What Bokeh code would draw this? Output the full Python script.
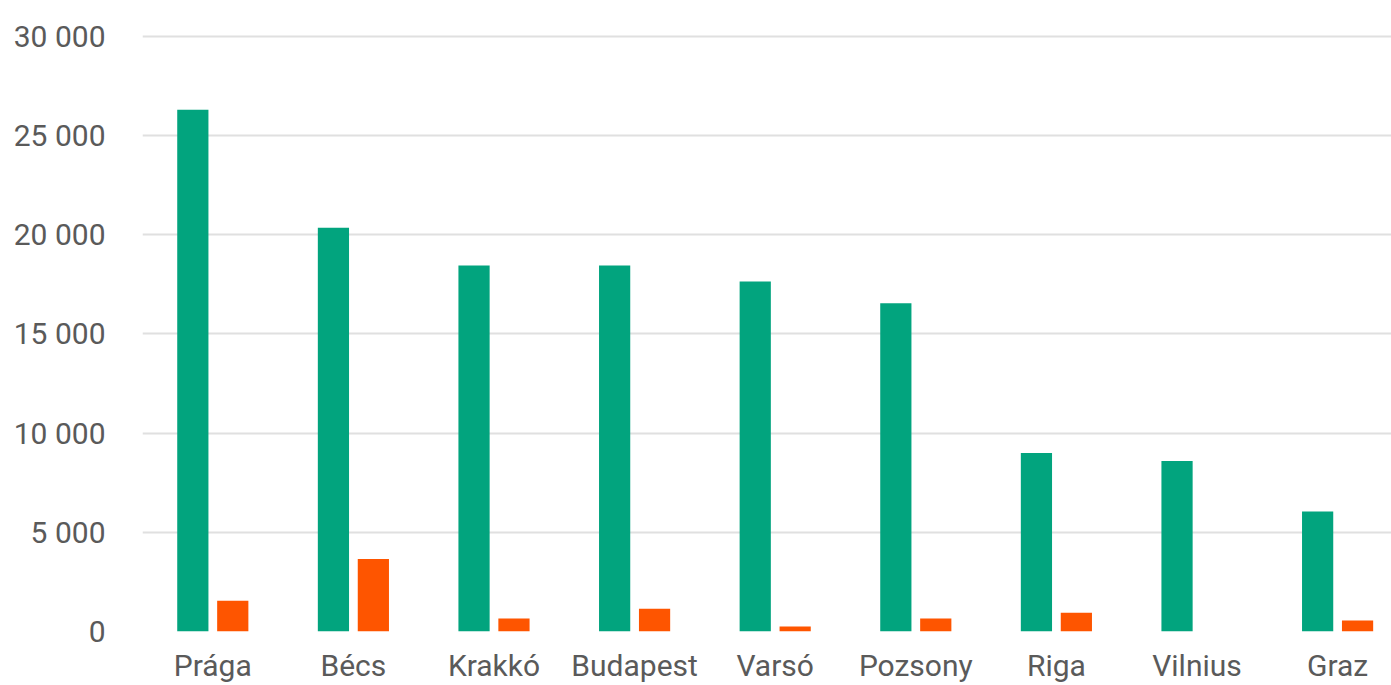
from bokeh.plotting import figure
from bokeh.models import ColumnDataSource, Range1d, FixedTicker, CustomJSTickFormatter
from bokeh.transform import dodge
from bokeh.embed import file_html
from bokeh.resources import INLINE

cities = ["Prága", "Bécs", "Krakkó", "Budapest", "Varsó", "Pozsony", "Riga", "Vilnius", "Graz"]
green_values = [26300, 20350, 18450, 18450, 17650, 16550, 9000, 8600, 6050]
orange_values = [1550, 3650, 650, 1150, 250, 650, 950, 0, 550]
y_ticks = [0, 5000, 10000, 15000, 20000, 25000, 30000]

idx = list(range(len(cities)))
src = ColumnDataSource(dict(x=idx, city=cities, g=green_values, o=orange_values))

p = figure(width=1391, height=685, output_backend="svg", toolbar_location=None,
           x_range=Range1d(-0.5, -0.5 + 1249 / 140.6), y_range=Range1d(0, 30300),
           min_border_left=142, min_border_right=0, min_border_top=30, min_border_bottom=52)
p.outline_line_color = None
p.background_fill_color = "white"
p.border_fill_color = "white"

p.vbar(x=dodge("x", -0.142), top="g", width=0.222, source=src, fill_color="#02a47e", line_color=None)
p.vbar(x=dodge("x", 0.142), top="o", width=0.222, source=src, fill_color="#fe5500", line_color=None)

p.xgrid.grid_line_color = None
p.ygrid.grid_line_color = "#e0e0e0"
p.ygrid.grid_line_width = 2
p.yaxis.ticker = FixedTicker(ticks=y_ticks)
p.yaxis.formatter = CustomJSTickFormatter(code="return tick.toString().replace(/\\B(?=(\\d{3})+(?!\\d))/g, ' ');")
p.xaxis.ticker = FixedTicker(ticks=idx)
p.xaxis.major_label_overrides = {i: c for i, c in zip(idx, cities)}

for ax in (p.xaxis[0], p.yaxis[0]):
    ax.axis_line_color = None
    ax.major_tick_line_color = None
    ax.major_tick_out = 0
    ax.major_tick_in = 0
    ax.minor_tick_line_color = None
    ax.major_label_text_font = "Roboto"
    ax.major_label_text_font_size = "30px"
    ax.major_label_text_color = "#5a5a5a"
p.yaxis.major_label_standoff = 37
p.xaxis.major_label_standoff = 16

open("out.html", "w").write(file_html(p, INLINE))
